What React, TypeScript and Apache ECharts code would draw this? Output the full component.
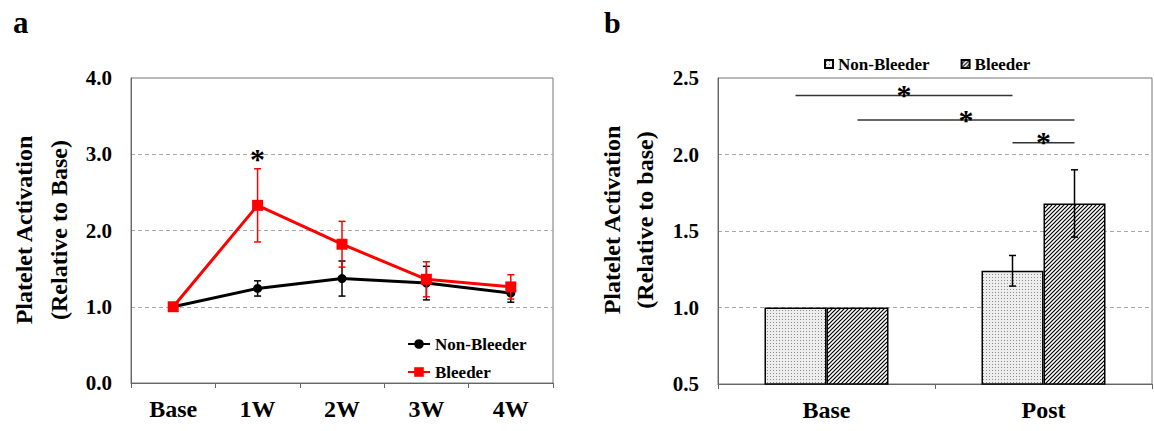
import React, { useEffect, useRef } from "react";
import * as echarts from "echarts";

// ---------- data ----------
const weekCategories = ["Base", "1W", "2W", "3W", "4W"];
const nonBleederWeekly = [1.0, 1.24, 1.37, 1.31, 1.18];
const nonBleederWeeklyErr = [0, 0.1, 0.23, 0.22, 0.12];
const bleederWeekly = [1.0, 2.33, 1.82, 1.36, 1.26];
const bleederWeeklyErr = [0, 0.48, 0.3, 0.23, 0.16];
const weeklyStars = [{ cat: "1W", y: 3.03 }];

const phaseCategories = ["Base", "Post"];
const nonBleederPhase = [1.0, 1.24];
const nonBleederPhaseErr = [0, 0.1];
const bleederPhase = [1.0, 1.68];
const bleederPhaseErr = [0, 0.22];
// [fromCategory, fromSeries(0=Non-Bleeder,1=Bleeder), toCategory, toSeries, y]
const phaseBrackets: [string, number, string, number, number][] = [
  ["Base", 0, "Post", 0, 2.385],
  ["Base", 1, "Post", 1, 2.225],
  ["Post", 0, "Post", 1, 2.077],
];

const SERIF = '"Liberation Serif", "Times New Roman", serif';
const BAR_W = 62;

function dotPattern(): any {
  const c = document.createElement("canvas");
  c.width = 3;
  c.height = 3;
  const ctx = c.getContext("2d")!;
  ctx.fillStyle = "#eeeeee";
  ctx.fillRect(0, 0, 3, 3);
  ctx.fillStyle = "#8a8a8a";
  ctx.fillRect(1, 1, 1, 1);
  return { image: c, repeat: "repeat", imageWidth: 3, imageHeight: 3 };
}

function hatchPattern(): any {
  const s = 4;
  const c = document.createElement("canvas");
  c.width = s;
  c.height = s;
  const ctx = c.getContext("2d")!;
  ctx.fillStyle = "#ffffff";
  ctx.fillRect(0, 0, s, s);
  ctx.strokeStyle = "#000000";
  ctx.lineWidth = 1.2;
  ctx.beginPath();
  ctx.moveTo(0, s);
  ctx.lineTo(s, 0);
  ctx.moveTo(-1, 1);
  ctx.lineTo(1, -1);
  ctx.moveTo(s - 1, s + 1);
  ctx.lineTo(s + 1, s - 1);
  ctx.stroke();
  return { image: c, repeat: "repeat", imageWidth: s, imageHeight: s };
}

function errorBars(means: number[], errs: number[], color: string, offset: number, z: number): any {
  const data: number[][] = [];
  means.forEach((m, i) => {
    if (errs[i] > 0) data.push([i, m - errs[i], m + errs[i]]);
  });
  return {
    type: "custom",
    z,
    silent: true,
    encode: { x: 0, y: [1, 2] },
    data,
    renderItem: (params: any, api: any) => {
      const x = api.value(0);
      const lo = api.coord([x, api.value(1)]);
      const hi = api.coord([x, api.value(2)]);
      const cx = lo[0] + offset;
      const cap = 3.5;
      const st = { stroke: color, lineWidth: 1.5 };
      return {
        type: "group",
        children: [
          { type: "line", shape: { x1: cx, y1: hi[1], x2: cx, y2: lo[1] }, style: st },
          { type: "line", shape: { x1: cx - cap, y1: hi[1], x2: cx + cap, y2: hi[1] }, style: st },
          { type: "line", shape: { x1: cx - cap, y1: lo[1], x2: cx + cap, y2: lo[1] }, style: st },
        ],
      };
    },
  };
}

function axisNameTexts(x1: number, x2: number, y: number, l1: string, l2: string): any[] {
  const font = { fontFamily: SERIF, fontWeight: "bold", fontSize: 24, fill: "#000" };
  return [
    { type: "text", x: x1, y, rotation: Math.PI / 2, style: { text: l1, align: "center", verticalAlign: "middle", ...font } },
    { type: "text", x: x2, y, rotation: Math.PI / 2, style: { text: l2, align: "center", verticalAlign: "middle", ...font } },
  ];
}

const yLabel = {
  fontFamily: SERIF,
  fontWeight: "bold",
  fontSize: 21,
  color: "#000",
  margin: 19,
  formatter: (v: number) => v.toFixed(1),
};
const xLabel = { fontFamily: SERIF, fontWeight: "bold", fontSize: 24, color: "#000", margin: 14 };
const split = { show: true, showMinLine: false, showMaxLine: false, lineStyle: { color: "#a8a8a8", type: [4, 3], width: 1 } };
const axisLine = { show: true, lineStyle: { color: "#666", width: 1 } };
const starStyle = { text: "*", fontFamily: SERIF, fontWeight: "bold", fontSize: 30, fill: "#000", align: "center", verticalAlign: "middle" };
const legendText = { fontFamily: SERIF, fontWeight: "bold", fontSize: 17, color: "#000", lineHeight: 20 };

export default function App() {
  const leftRef = useRef<HTMLDivElement>(null);
  const rightRef = useRef<HTMLDivElement>(null);

  useEffect(() => {
    const left = echarts.init(leftRef.current!, undefined, { renderer: "svg" });
    const right = echarts.init(rightRef.current!, undefined, { renderer: "svg" });

    // ---------- panel a ----------
    left.setOption({
      animation: false,
      grid: { left: 131, right: 24, top: 78, bottom: 48, show: true, borderColor: "#777", borderWidth: 1 },
      xAxis: {
        type: "category",
        data: weekCategories,
        axisLine,
        axisTick: { show: true, length: 5, lineStyle: { color: "#666" } },
        axisLabel: xLabel,
      },
      yAxis: {
        type: "value",
        min: 0,
        max: 4,
        interval: 1,
        axisLine,
        axisTick: { show: false },
        axisLabel: yLabel,
        splitLine: split,
      },
      legend: {
        orient: "vertical",
        left: 402,
        top: 329,
        itemWidth: 22,
        itemHeight: 12,
        itemGap: 8,
        data: ["Non-Bleeder", "Bleeder"],
        textStyle: legendText,
      },
      series: [
        errorBars(nonBleederWeekly, nonBleederWeeklyErr, "#000", 0, 2),
        {
          name: "Non-Bleeder",
          type: "line",
          data: nonBleederWeekly,
          symbol: "circle",
          symbolSize: 9,
          z: 3,
          lineStyle: { color: "#000", width: 3 },
          itemStyle: { color: "#000" },
        },
        errorBars(bleederWeekly, bleederWeeklyErr, "#ff0000", 0, 4),
        {
          name: "Bleeder",
          type: "line",
          data: bleederWeekly,
          symbol: "rect",
          symbolSize: 11,
          z: 5,
          lineStyle: { color: "#ff0000", width: 3 },
          itemStyle: { color: "#ff0000" },
        },
      ],
    });

    const leftGraphics: any[] = [
      { type: "text", x: 13, y: 38, style: { text: "a", fontFamily: SERIF, fontWeight: "bold", fontSize: 31, fill: "#000", verticalAlign: "bottom" } },
      ...axisNameTexts(24, 59, 230, "Platelet Activation", "(Relative to Base)"),
    ];
    weeklyStars.forEach((s) => {
      const p = left.convertToPixel({ gridIndex: 0 }, [weekCategories.indexOf(s.cat), s.y]) as number[];
      leftGraphics.push({ type: "text", x: p[0], y: p[1] + 7, style: starStyle });
    });
    left.setOption({ graphic: { elements: leftGraphics } });

    // ---------- panel b ----------
    const nbColor = dotPattern();
    const bColor = hatchPattern();
    right.setOption({
      animation: false,
      grid: { left: 141, right: 2, top: 78, bottom: 47, show: true, borderColor: "#777", borderWidth: 1 },
      xAxis: {
        type: "category",
        data: phaseCategories,
        axisLine,
        axisTick: { show: true, length: 5, lineStyle: { color: "#666" } },
        axisLabel: xLabel,
      },
      yAxis: {
        type: "value",
        min: 0.5,
        max: 2.5,
        interval: 0.5,
        axisLine,
        axisTick: { show: false },
        axisLabel: yLabel,
        splitLine: split,
      },
      legend: {
        orient: "horizontal",
        left: 242,
        top: 49,
        icon: "rect",
        itemWidth: 8,
        itemHeight: 8,
        itemGap: 31,
        data: ["Non-Bleeder", "Bleeder"],
        textStyle: legendText,
      },
      series: [
        {
          name: "Non-Bleeder",
          type: "bar",
          data: nonBleederPhase,
          barWidth: BAR_W,
          barGap: "0%",
          itemStyle: { color: nbColor, borderColor: "#000", borderWidth: 1.5 },
        },
        {
          name: "Bleeder",
          type: "bar",
          data: bleederPhase,
          barWidth: BAR_W,
          barGap: "0%",
          itemStyle: { color: bColor, borderColor: "#000", borderWidth: 1.5 },
        },
        errorBars(nonBleederPhase, nonBleederPhaseErr, "#000", -BAR_W / 2, 5),
        errorBars(bleederPhase, bleederPhaseErr, "#000", BAR_W / 2, 5),
      ],
    });

    const rightGraphics: any[] = [
      { type: "text", x: 27, y: 37, style: { text: "b", fontFamily: SERIF, fontWeight: "bold", fontSize: 30, fill: "#000", verticalAlign: "bottom" } },
      ...axisNameTexts(35, 68, 220, "Platelet Activation", "(Relative to base)"),
    ];
    phaseBrackets.forEach(([c1, s1, c2, s2, y]) => {
      const p1 = right.convertToPixel({ gridIndex: 0 }, [phaseCategories.indexOf(c1), y]) as number[];
      const p2 = right.convertToPixel({ gridIndex: 0 }, [phaseCategories.indexOf(c2), y]) as number[];
      const x1 = p1[0] + (s1 === 0 ? -1 : 1) * (BAR_W / 2);
      const x2 = p2[0] + (s2 === 0 ? -1 : 1) * (BAR_W / 2);
      rightGraphics.push({
        type: "line",
        shape: { x1, y1: p1[1], x2, y2: p1[1] },
        style: { stroke: "#333", lineWidth: 1.5 },
      });
      rightGraphics.push({ type: "text", x: (x1 + x2) / 2, y: p1[1] - 1, style: starStyle });
    });
    right.setOption({ graphic: { elements: rightGraphics } });

    return () => {
      left.dispose();
      right.dispose();
    };
  }, []);

  return (
    <div style={{ position: "absolute", left: 0, top: 0, width: 1154, height: 431, display: "flex", background: "#fff" }}>
      <div ref={leftRef} style={{ width: 577, height: 431 }} />
      <div ref={rightRef} style={{ width: 577, height: 431 }} />
    </div>
  );
}
